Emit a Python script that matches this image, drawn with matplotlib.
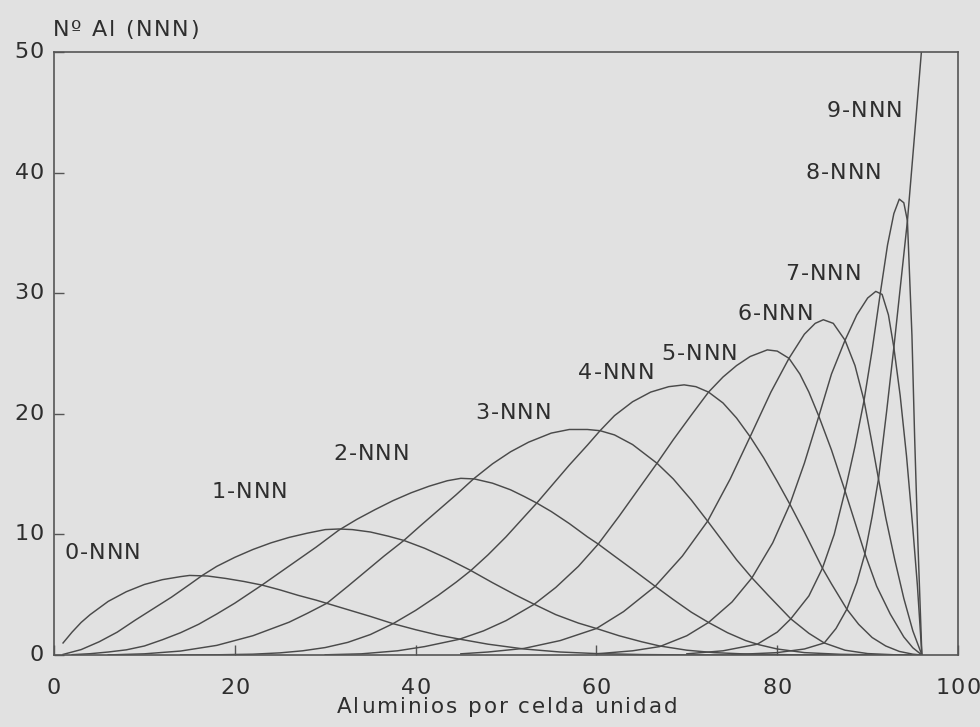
import matplotlib
matplotlib.use("Agg")
import matplotlib.pyplot as plt
from matplotlib.font_manager import FontProperties
from matplotlib.transforms import offset_copy, blended_transform_factory

# Number of Al atoms with k next-nearest-neighbour Al
x0 = [1, 2, 3, 4, 6, 8, 10, 12, 14, 15, 17, 19, 21, 23, 25, 27, 29, 31, 33, 35, 37.5, 40, 42.5, 45, 48, 52, 56, 60, 65, 70, 75, 96]
y0 = [1.0, 1.9, 2.7, 3.35, 4.45, 5.25, 5.85, 6.25, 6.5, 6.6, 6.55, 6.35, 6.1, 5.8, 5.4, 4.95, 4.55, 4.1, 3.65, 3.2, 2.6, 2.1, 1.65, 1.3, 0.9, 0.5, 0.25, 0.12, 0.04, 0.01, 0.0, 0.0]

x1 = [1, 3, 5, 7, 9, 11, 13, 15, 16.4, 18, 20, 22, 24, 26, 28, 30, 31.5, 33, 35, 37, 38.7, 41, 43.5, 46, 48.5, 51, 53, 55.5, 58, 60, 62.5, 65, 67, 70, 73, 77, 82, 88, 96]
y1 = [0.05, 0.45, 1.1, 1.9, 2.9, 3.85, 4.8, 5.85, 6.6, 7.35, 8.1, 8.75, 9.3, 9.75, 10.1, 10.4, 10.45, 10.4, 10.2, 9.85, 9.5, 8.85, 8.0, 7.05, 6.0, 5.0, 4.25, 3.35, 2.65, 2.2, 1.6, 1.1, 0.75, 0.4, 0.2, 0.07, 0.02, 0.0, 0.0]

x2 = [2, 4, 6, 8, 10, 12, 14, 16, 18, 20, 23, 25, 27, 29, 31.5, 33.5, 35.5, 37.5, 39.5, 41.5, 43.5, 45, 46.5, 48.5, 50.5, 52, 53.4, 55, 57, 59, 60.2, 62, 64, 66.5, 68.5, 70.5, 72.4, 74.5, 76.5, 78, 80, 83, 87, 91, 96]
y2 = [0.03, 0.11, 0.25, 0.43, 0.75, 1.27, 1.85, 2.55, 3.4, 4.3, 5.8, 6.85, 7.9, 8.95, 10.35, 11.25, 12.05, 12.8, 13.45, 14.0, 14.45, 14.65, 14.6, 14.25, 13.7, 13.15, 12.6, 11.9, 10.9, 9.8, 9.2, 8.2, 7.1, 5.7, 4.6, 3.55, 2.7, 1.85, 1.2, 0.85, 0.5, 0.2, 0.06, 0.01, 0.0]

x3 = [6, 10, 14, 18, 22, 26, 28, 30.2, 32.5, 34.5, 36.5, 38.7, 40.5, 42.5, 44.5, 46.4, 48.5, 50.5, 52.5, 55, 57, 59, 60.4, 62, 64, 66.7, 68.5, 70.5, 72.3, 74, 75.5, 77.2, 79, 81.5, 83.5, 85.2, 87.5, 90, 93, 96]
y3 = [0.01, 0.1, 0.33, 0.8, 1.6, 2.72, 3.45, 4.3, 5.7, 6.95, 8.2, 9.5, 10.7, 12.0, 13.3, 14.6, 15.85, 16.85, 17.65, 18.4, 18.7, 18.7, 18.6, 18.25, 17.45, 15.9, 14.6, 12.85, 11.1, 9.4, 7.9, 6.4, 4.95, 3.0, 1.8, 1.0, 0.4, 0.12, 0.02, 0.0]

x4 = [14, 18, 22, 25, 27.5, 30, 32.5, 35, 37.5, 40, 42.5, 44.5, 46.1, 48, 50, 52, 53.4, 55, 57, 59, 60.4, 62, 64, 66, 68, 69.7, 71, 72.4, 74, 75.5, 77, 78.5, 80, 81.4, 83, 84, 85, 86, 87.7, 89, 90.5, 92, 93.5, 95, 96]
y4 = [0.0, 0.02, 0.07, 0.18, 0.35, 0.62, 1.05, 1.7, 2.6, 3.7, 4.95, 6.05, 7.0, 8.3, 9.8, 11.45, 12.6, 14.0, 15.75, 17.4, 18.6, 19.85, 21.0, 21.8, 22.25, 22.4, 22.25, 21.8, 20.9, 19.65, 18.1, 16.35, 14.4, 12.5, 10.2, 8.7, 7.2, 5.9, 3.8, 2.55, 1.45, 0.75, 0.3, 0.07, 0.0]

x5 = [30, 34, 38, 41, 44.8, 47.5, 50, 53.1, 55.5, 58, 60.2, 62.5, 64.5, 66.7, 68.5, 70.5, 72.4, 74, 75.5, 77, 78.9, 80, 81.3, 82.5, 83.5, 84.6, 86, 87.5, 88.6, 89.7, 91, 92.5, 94, 95, 96]
y5 = [0.02, 0.1, 0.35, 0.7, 1.3, 2.0, 2.85, 4.2, 5.6, 7.35, 9.2, 11.5, 13.6, 15.9, 17.85, 19.9, 21.8, 23.05, 24.0, 24.75, 25.3, 25.2, 24.6, 23.3, 21.8, 19.8, 17.0, 13.6, 11.0, 8.4, 5.7, 3.4, 1.5, 0.6, 0.0]

x6 = [45, 48, 52, 56, 60, 63, 66.5, 69.5, 72.3, 74.8, 77, 79.3, 81.3, 83, 84.2, 85.1, 86.2, 87.5, 88.6, 89.6, 90.4, 91.2, 92, 93, 94, 95, 96]
y6 = [0.1, 0.25, 0.55, 1.2, 2.2, 3.6, 5.7, 8.2, 11.1, 14.6, 18.1, 21.8, 24.6, 26.6, 27.5, 27.8, 27.5, 26.1, 24.0, 21.1, 17.9, 14.6, 11.4, 7.9, 4.7, 2.0, 0.0]

x7 = [60, 64, 67, 70, 72.4, 75, 77.2, 79.5, 81.4, 83, 84.6, 86, 87.5, 88.8, 90, 90.9, 91.6, 92.3, 92.9, 93.6, 94.3, 95, 95.5, 96]
y7 = [0.1, 0.35, 0.7, 1.6, 2.7, 4.4, 6.4, 9.3, 12.5, 15.9, 19.8, 23.3, 26.1, 28.2, 29.6, 30.15, 29.9, 28.2, 25.5, 21.5, 16.5, 10.5, 5.8, 0.0]

x8 = [70, 74, 77.8, 80, 81.5, 83.5, 85, 86.3, 87.5, 88.6, 89.6, 90.5, 91.4, 92.2, 92.9, 93.5, 94.0, 94.4, 94.9, 95.2, 95.55, 96]
y8 = [0.1, 0.35, 0.9, 1.9, 3.0, 4.9, 7.2, 10.0, 13.6, 17.3, 21.1, 25.3, 30.0, 34.0, 36.6, 37.8, 37.5, 36.0, 26.5, 18.0, 9.5, 0.0]

x9 = [75, 80, 83, 85.2, 86.5, 87.7, 88.8, 89.7, 90.5, 91.2, 92.1, 92.9, 93.6, 94.4, 95.2, 96]
y9 = [0.03, 0.2, 0.5, 1.0, 2.2, 3.8, 6.0, 8.4, 11.5, 14.6, 20.2, 25.5, 30.4, 36.0, 43.2, 50.5]

curve_x = [x0, x1, x2, x3, x4, x5, x6, x7, x8, x9]
curve_y = [y0, y1, y2, y3, y4, y5, y6, y7, y8, y9]
labels = ["%d-NNN" % k for k in range(10)]

xticks = [0, 20, 40, 60, 80, 100]
yticks = [0, 10, 20, 30, 40, 50]

# label anchors: left edge / baseline, data coords
label_pos = [(1.2, 8.0), (17.45, 13.0), (30.9, 16.2), (46.6, 19.6), (58.0, 22.85),
             (67.2, 24.45), (75.6, 27.8), (80.9, 31.1), (83.15, 39.5), (85.5, 44.6)]

bg = "#e1e1e1"
ink_col = "#2e2e2e"
line_col = "#4a4a4a"

fig = plt.figure(figsize=(9.8, 7.27), dpi=100, facecolor=bg)
ax = fig.add_axes([0.0551, 0.0990, 0.9225, 0.8295], facecolor=bg)
renderer = fig.canvas.get_renderer()


def spaced(x, y, s, size, gap, transform, ha="left", va="baseline"):
    # old plotter lettering is a bit letter-spaced: lay it out char by char
    fp = FontProperties(family="DejaVu Sans", size=size)
    def ink(t):
        return renderer.get_text_width_height_descent(t, fp, ismath=False)[0]
    bar = ink("||")
    advs = [ink("|" + c + "|") - bar for c in s]
    total = sum(advs) + gap * (len(s) - 1)
    off = {"left": 0, "center": -total / 2, "right": -total}[ha]
    for c, a in zip(s, advs):
        if c != " ":
            tr = offset_copy(transform, fig=fig, x=off, y=0, units="dots")
            fig.text(x, y, c, fontproperties=fp, transform=tr, color=ink_col,
                     ha="left", va=va)
        off += a + gap


for xs, ys in zip(curve_x, curve_y):
    ax.plot(xs, ys, color=line_col, lw=1.05)

ax.set_xlim(0, 100)
ax.set_ylim(0, 50)
ax.set_xticks(xticks)
ax.set_yticks(yticks)
ax.set_xticklabels([])
ax.set_yticklabels([])
ax.tick_params(direction="in", length=7, width=1.0, color="#555555")
for s in ax.spines.values():
    s.set_color("#555555")
    s.set_linewidth(1.2)

for (lx, ly), lab in zip(label_pos, labels):
    spaced(lx, ly, lab, 16, 1.0, ax.transData)

xt = blended_transform_factory(ax.transData, fig.transFigure)
for v in xticks:
    spaced(v, 1 - 694 / 727, str(v), 16, 1.0, xt, ha="center")
yt = blended_transform_factory(fig.transFigure, ax.transData)
for v in yticks:
    spaced(44 / 980, v, str(v), 16, 1.0, yt, ha="right", va="center")

spaced(507 / 980, 1 - 713 / 727, "Aluminios por celda unidad", 15.5, 1.9,
       fig.transFigure, ha="center")
spaced(53 / 980, 1 - 36 / 727, "Nº Al (NNN)", 16, 1.6, fig.transFigure)

fig.savefig("out.png", dpi=100, facecolor=bg)
